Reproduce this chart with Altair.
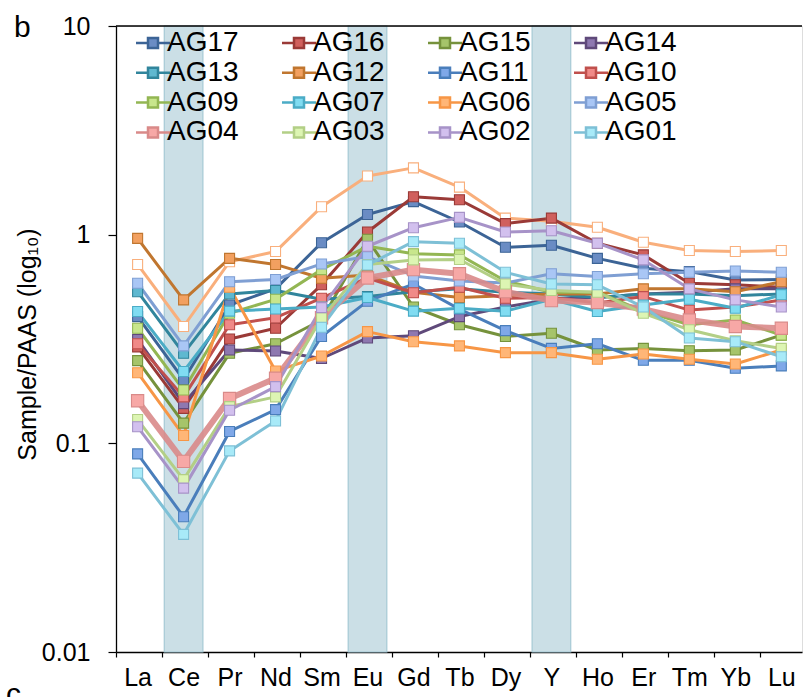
import altair as alt
import pandas as pd

# Rare earth elements + Y on the x axis
ELEMENTS = ["La", "Ce", "Pr", "Nd", "Sm", "Eu", "Gd", "Tb", "Dy", "Y", "Ho", "Er", "Tm", "Yb", "Lu"]
ANOMALY_ELEMENTS = ["Ce", "Eu", "Y"]

# PAAS-normalised concentrations per sample
AG08 = [0.72, 0.363, 0.742, 0.83, 1.36, 1.91, 2.09, 1.69, 1.20, 1.16, 1.085, 0.92, 0.84, 0.83, 0.84]
AG17 = [0.405, 0.202, 0.46, 0.55, 0.915, 1.25, 1.44, 1.15, 0.87, 0.89, 0.77, 0.69, 0.665, 0.607, 0.61]
AG16 = [0.29, 0.147, 0.316, 0.356, 0.575, 1.03, 1.52, 1.47, 1.13, 1.20, 0.91, 0.80, 0.585, 0.575, 0.56]
AG15 = [0.249, 0.125, 0.27, 0.30, 0.39, 0.95, 0.45, 0.37, 0.325, 0.337, 0.28, 0.285, 0.278, 0.28, 0.33]
AG14 = [0.315, 0.155, 0.28, 0.277, 0.255, 0.32, 0.328, 0.405, 0.45, 0.49, 0.50, 0.52, 0.53, 0.55, 0.55]
AG13 = [0.533, 0.27, 0.52, 0.54, 0.49, 0.505, 0.533, 0.55, 0.53, 0.52, 0.50, 0.52, 0.52, 0.51, 0.52]
AG12 = [0.96, 0.487, 0.77, 0.72, 0.618, 0.64, 0.53, 0.50, 0.51, 0.52, 0.52, 0.55, 0.55, 0.533, 0.595]
AG11 = [0.089, 0.0445, 0.114, 0.145, 0.325, 0.48, 0.58, 0.44, 0.347, 0.285, 0.30, 0.25, 0.25, 0.229, 0.235]
AG10 = [0.30, 0.167, 0.37, 0.40, 0.496, 0.62, 0.527, 0.56, 0.496, 0.50, 0.47, 0.505, 0.435, 0.45, 0.486]
AG09 = [0.356, 0.18, 0.42, 0.49, 0.68, 0.88, 0.81, 0.80, 0.60, 0.53, 0.53, 0.43, 0.37, 0.39, 0.33]
AG07 = [0.428, 0.221, 0.43, 0.44, 0.45, 0.50, 0.43, 0.444, 0.43, 0.49, 0.428, 0.46, 0.49, 0.444, 0.515]
AG06 = [0.218, 0.109, 0.56, 0.222, 0.262, 0.343, 0.307, 0.293, 0.272, 0.272, 0.253, 0.268, 0.253, 0.24, 0.28]
AG05 = [0.585, 0.293, 0.595, 0.61, 0.724, 0.785, 0.634, 0.60, 0.587, 0.65, 0.63, 0.65, 0.66, 0.67, 0.66]
AG04 = [0.16, 0.082, 0.164, 0.205, 0.40, 0.62, 0.68, 0.65, 0.533, 0.483, 0.473, 0.44, 0.39, 0.363, 0.356]
AG03 = [0.13, 0.067, 0.15, 0.167, 0.40, 0.72, 0.757, 0.76, 0.58, 0.54, 0.53, 0.42, 0.35, 0.31, 0.285]
AG02 = [0.12, 0.061, 0.144, 0.187, 0.447, 0.88, 1.08, 1.21, 1.03, 1.045, 0.91, 0.757, 0.55, 0.487, 0.45]
AG01 = [0.072, 0.0366, 0.092, 0.128, 0.36, 0.716, 0.926, 0.91, 0.66, 0.58, 0.575, 0.45, 0.32, 0.307, 0.26]

PROFILES = {
    "AG08": AG08, "AG17": AG17, "AG16": AG16, "AG15": AG15, "AG14": AG14,
    "AG13": AG13, "AG12": AG12, "AG11": AG11, "AG10": AG10, "AG09": AG09,
    "AG07": AG07, "AG06": AG06, "AG05": AG05, "AG04": AG04, "AG03": AG03,
    "AG02": AG02, "AG01": AG01,
}
SERIES = list(PROFILES.keys())
LEGEND_ORDER = [s for s in SERIES if s != "AG08"]

LINE_COLORS = ["#F9AF7C", "#3C6496", "#9A3A37", "#76923C", "#5F497A", "#31859C", "#C0762F",
               "#4A7EBB", "#C0504D", "#93B653", "#4BACC6", "#F79646", "#7F9FD3", "#D98A89",
               "#B3CF86", "#A793C8", "#7EC0D6"]
MARKER_COLORS = ["#FFFFFF", "#6A8CC4", "#D0605D", "#A6C46A", "#8E78B0", "#5FB8D0", "#F2A060",
                 "#7FA8E8", "#F08A88", "#C8E68C", "#80DCF2", "#FFB677", "#A9C6F5", "#F7A8A6",
                 "#DDF5B3", "#D2C0EE", "#A8EAF8"]

rows = []
for name, vals in PROFILES.items():
    for i, (el, v) in enumerate(zip(ELEMENTS, vals)):
        rows.append({"series": name, "idx": i, "element": el, "value": v})
df = pd.DataFrame(rows)

bands = pd.DataFrame({"element": ANOMALY_ELEMENTS,
                      "idx": [ELEMENTS.index(e) for e in ANOMALY_ELEMENTS]})
bands["lo"] = bands["idx"] - 0.42
bands["hi"] = bands["idx"] + 0.42

FONT = "Liberation Sans"
X_MIN, X_MAX = -0.47, 14.45
label_list = "[" + ",".join(f"'{e}'" for e in ELEMENTS) + "]"

x_scale = alt.Scale(domain=[X_MIN, X_MAX], nice=False, zero=False)
y_scale = alt.Scale(type="log", domain=[0.01, 10], nice=False)

x_axis = alt.Axis(
    values=[k + X_MIN for k in range(15)],
    labelExpr=f"{label_list}[round(datum.value - ({X_MIN}))]",
    labelOffset=21.6, labelFontSize=25, labelFont=FONT, labelColor="black",
    labelPadding=8, labelFlush=False, labelOverlap=False, labelBound=False,
    tickSize=5, tickColor="black", tickWidth=1.2,
    domainColor="black", domainWidth=1.3, grid=False, title=None,
)
y_axis = alt.Axis(
    values=[0.01, 0.1, 1, 10], format="~g",
    labelFontSize=25, labelFont=FONT, labelColor="black", labelPadding=18,
    labelFlush=False, labelOverlap=False,
    tickSize=8, tickColor="black", tickWidth=1.2,
    domainColor="black", domainWidth=1.3, grid=False,
    title="Sample/PAAS (log₁₀)", titleFont=FONT, titleFontSize=25,
    titleFontWeight="normal", titleColor="black",
    titleX=-81, titleY=318, titleAngle=-90, titleAlign="center",
    titleBaseline="alphabetic",
)

legend = alt.Legend(
    values=LEGEND_ORDER, title=None, orient="none", legendX=23, legendY=3,
    columns=4, direction="horizontal", columnPadding=38, rowPadding=1.8, padding=0,
    symbolType="M-1.7,0H-0.5M0.5,0H1.7M-0.5,-0.5H0.5V0.5H-0.5Z",
    symbolSize=400, symbolStrokeWidth=2.5, symbolOpacity=1,
    labelFont=FONT, labelFontSize=28, labelColor="black", labelOffset=0,
    labelLimit=200,
)

stroke_enc = alt.Stroke("series:N", scale=alt.Scale(domain=SERIES, range=LINE_COLORS),
                        legend=legend)
fill_enc = alt.Fill("series:N", scale=alt.Scale(domain=SERIES, range=MARKER_COLORS),
                    legend=legend)

band_layer = alt.Chart(bands).mark_rect(
    fill="#CBDFE6", stroke="#A6C9D5", strokeWidth=1.2
).encode(x=alt.X("lo:Q", scale=x_scale, axis=x_axis), x2="hi:Q")

top_rule = alt.Chart(pd.DataFrame({"value": [10]})).mark_rule(
    color="black", strokeWidth=1.3
).encode(y=alt.Y("value:Q", scale=y_scale, axis=y_axis))

is_thick = alt.datum.series == "AG04"

lines = alt.Chart(df).mark_line(strokeJoin="round", strokeCap="round").encode(
    x=alt.X("idx:Q", scale=x_scale, axis=x_axis),
    y=alt.Y("value:Q", scale=y_scale, axis=y_axis),
    stroke=stroke_enc,
    detail="series:N",
    strokeWidth=alt.condition(is_thick, alt.value(6), alt.value(3)),
    opacity=alt.condition(is_thick, alt.value(0.9), alt.value(1)),
)

points = alt.Chart(df).mark_point(shape="square", filled=True, strokeWidth=1.1).encode(
    x=alt.X("idx:Q", scale=x_scale, axis=x_axis),
    y=alt.Y("value:Q", scale=y_scale, axis=y_axis),
    stroke=stroke_enc,
    fill=fill_enc,
    size=alt.condition(is_thick, alt.value(150), alt.value(100)),
    opacity=alt.value(1),
)

panel_b = alt.Chart(pd.DataFrame({"t": ["b"]})).mark_text(
    font=FONT, fontSize=30, align="left", baseline="alphabetic", color="black"
).encode(text="t:N", x=alt.value(-102), y=alt.value(11))

panel_c = alt.Chart(pd.DataFrame({"t": ["c"]})).mark_text(
    font=FONT, fontSize=30, align="left", baseline="alphabetic", color="black"
).encode(text="t:N", x=alt.value(-110), y=alt.value(678))

chart = alt.layer(band_layer, top_rule, lines, points, panel_b, panel_c).properties(
    width=686, height=626,
    autosize=alt.AutoSizeParams(type="none"),
    padding={"left": 116, "top": 26, "right": 1, "bottom": 45},
).configure_view(stroke=None).configure(background="white")

chart.save("out.html", embed_options={"renderer": "svg", "actions": False})
